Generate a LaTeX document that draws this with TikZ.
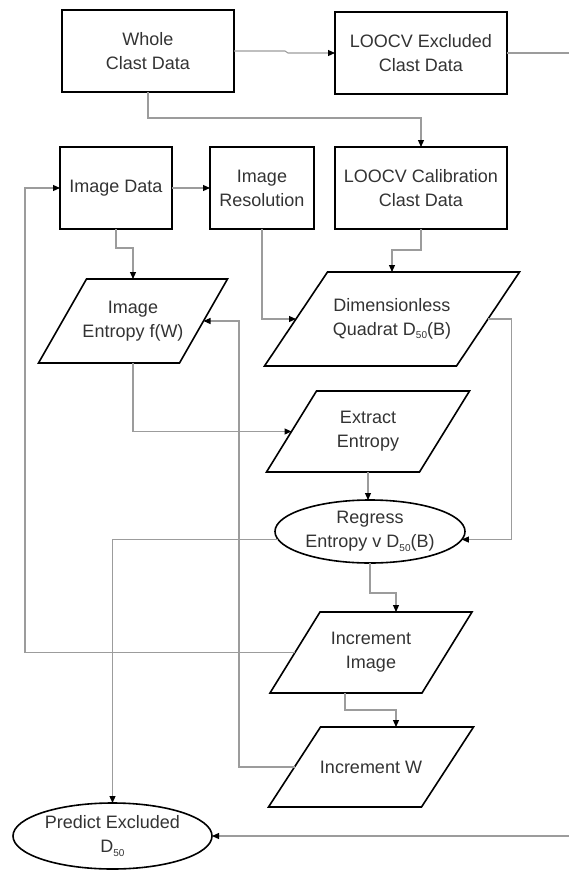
\documentclass[tikz,border=0pt]{standalone}
\usepackage{fontspec}
\setmainfont{Liberation Sans}
\usetikzlibrary{arrows.meta,shapes.geometric}
\definecolor{conncol}{HTML}{9C9C9C}
\definecolor{txtcol}{HTML}{333333}
\newcommand\dsub[1]{\raisebox{-0.35ex}{\fontsize{10}{10}\selectfont #1}}
\newcommand\paraframe[2]{\draw[nodeline] ([xshift=-#2]#1.south west) -- ([xshift=#2]#1.north west) -- ([xshift=#2]#1.north east) -- ([xshift=-#2]#1.south east) -- cycle;}
\begin{document}
\begin{tikzpicture}[x=1pt,y=-1pt,
 nodeline/.style={line width=1.6pt, draw=black, line join=miter},
 base/.style={font=\fontsize{18}{24}\selectfont, text=txtcol, align=center, inner sep=0pt, outer sep=0pt},
 boxnode/.style={base, draw=black, line width=1.6pt, minimum height=82pt},
 paranode/.style={base},
 ovalnode/.style={base, ellipse, draw=black, line width=1.6pt},
 conn/.style={draw=conncol, line width=1.1pt, -{Triangle[length=7pt,width=6pt,color=black]}}]
\useasboundingbox (0,0) rectangle (569,871);
\node[boxnode, minimum width=172pt] (whole) at (148,51) {Whole\\Clast Data};
\node[boxnode, minimum width=172pt] (excl) at (421,53) {LOOCV Excluded\\Clast Data};
\node[boxnode, minimum width=112pt] (imgdata) at (116,188) {Image Data};
\node[boxnode, minimum width=104pt] (imgres) at (262,188) {Image\\Resolution};
\node[boxnode, minimum width=172pt] (calib) at (421,188) {LOOCV Calibration\\Clast Data};
\node[paranode, minimum width=141pt, minimum height=84pt] (ie) at (133,321) {Image\\Entropy f(W)};
\paraframe{ie}{24pt}
\node[paranode, minimum width=192pt, minimum height=94pt] (dq) at (392,319) {Dimensionless\\Quadrat D\dsub{50}(B)};
\paraframe{dq}{31.5pt}
\node[paranode, minimum width=153pt, minimum height=81pt] (ee) at (368,431.5) {Extract\\Entropy};
\paraframe{ee}{25pt}
\node[ovalnode, minimum width=190pt, minimum height=63pt] (reg) at (370,531.5) {Regress\\Entropy v D\dsub{50}(B)};
\node[paranode, minimum width=152pt, minimum height=81pt] (ii) at (371,652.5) {Increment\\Image};
\paraframe{ii}{25pt}
\node[paranode, minimum width=153pt, minimum height=80pt] (iw) at (371,767) {Increment W};
\paraframe{iw}{26pt}
\node[ovalnode, minimum width=199pt, minimum height=66pt] (pred) at (112.5,836) {Predict Excluded\\D\dsub{50}};

\draw[conn] (whole) -- (285,51) -- (288,53) -- (excl);
\draw[conn] (whole) |- (421,118) -- (calib);
\draw[conn] (imgdata) -- (imgres);
\draw[conn] (imgdata.south) -- ++(0,19) -| (ie.north);
\draw[conn] (imgres) |- (dq);
\draw[conn] (calib.south) -- ++(0,21) -| (dq.north);
\draw[conn] (dq) -| ([xshift=50pt]reg.-5) -- (reg.-5);
\draw[conn] (ie.south) |- (ee);
\draw[conn] (ee.south) -- (ee.south |- reg.north);
\draw[conn] (reg.south) -- ++(0,30) -| ([xshift=25pt]ii.north);
\draw[conn] (reg.185) -| (pred);
\draw[conn] (ii) -| ([xshift=-35pt]imgdata.west) -- (imgdata);
\draw[conn] ([xshift=-26pt]ii.south) -- ++(0,17) -| ([xshift=25pt]iw.north);
\draw[conn] (iw) -| ([xshift=35.5pt]ie.east) -- (ie);
\draw[conn] (excl) -| (575,836) -- (pred);
\end{tikzpicture}
\end{document}
